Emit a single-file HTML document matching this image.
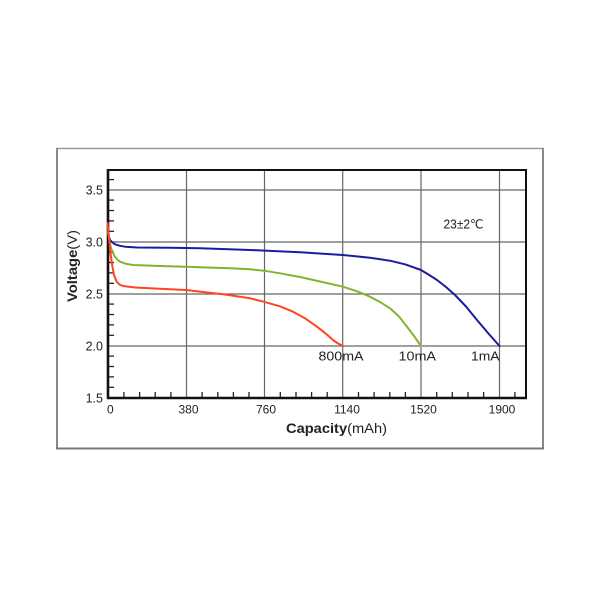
<!DOCTYPE html>
<html>
<head>
<meta charset="utf-8">
<style>
  html, body { margin:0; padding:0; background:#fff; }
  body { width:600px; height:600px; overflow:hidden; }
  svg { display:block; }
  text { font-family: "Liberation Sans", "DejaVu Sans", sans-serif; fill:#222; }
</style>
</head>
<body>
<svg width="600" height="600" viewBox="0 0 600 600" xmlns="http://www.w3.org/2000/svg">
  <rect x="0" y="0" width="600" height="600" fill="#fff"/>
  <!-- outer frame -->
  <line x1="56" y1="148.5" x2="544" y2="148.5" stroke="#9a9a9a" stroke-width="1.5"/>
  <line x1="57" y1="148" x2="57" y2="449" stroke="#888" stroke-width="2"/>
  <line x1="543" y1="148" x2="543" y2="449" stroke="#888" stroke-width="2"/>
  <line x1="56" y1="448.5" x2="544" y2="448.5" stroke="#777" stroke-width="2"/>

  <!-- grid -->
  <g stroke="#666" stroke-width="1.2">
    <line x1="186.5" y1="170" x2="186.5" y2="398"/>
    <line x1="264.5" y1="170" x2="264.5" y2="398"/>
    <line x1="342.7" y1="170" x2="342.7" y2="398"/>
    <line x1="421" y1="170" x2="421" y2="398"/>
    <line x1="499.5" y1="170" x2="499.5" y2="398"/>
    <line x1="108" y1="190" x2="526" y2="190"/>
    <line x1="108" y1="242" x2="526" y2="242"/>
    <line x1="108" y1="294" x2="526" y2="294"/>
    <line x1="108" y1="346" x2="526" y2="346"/>
  </g>

  <!-- ticks -->
  <g stroke="#222" stroke-width="1.3">
    <line x1="108" y1="387.3" x2="114" y2="387.3"/>
    <line x1="108" y1="376.9" x2="114" y2="376.9"/>
    <line x1="108" y1="366.5" x2="114" y2="366.5"/>
    <line x1="108" y1="356.1" x2="114" y2="356.1"/>
    <line x1="108" y1="335.3" x2="114" y2="335.3"/>
    <line x1="108" y1="324.9" x2="114" y2="324.9"/>
    <line x1="108" y1="314.5" x2="114" y2="314.5"/>
    <line x1="108" y1="304.1" x2="114" y2="304.1"/>
    <line x1="108" y1="283.3" x2="114" y2="283.3"/>
    <line x1="108" y1="272.9" x2="114" y2="272.9"/>
    <line x1="108" y1="262.5" x2="114" y2="262.5"/>
    <line x1="108" y1="252.1" x2="114" y2="252.1"/>
    <line x1="108" y1="231.3" x2="114" y2="231.3"/>
    <line x1="108" y1="220.9" x2="114" y2="220.9"/>
    <line x1="108" y1="210.5" x2="114" y2="210.5"/>
    <line x1="108" y1="200.1" x2="114" y2="200.1"/>
    <line x1="108" y1="179.6" x2="114" y2="179.6"/>

    <line x1="123.9" y1="392" x2="123.9" y2="398"/>
    <line x1="139.6" y1="392" x2="139.6" y2="398"/>
    <line x1="155.2" y1="392" x2="155.2" y2="398"/>
    <line x1="170.9" y1="392" x2="170.9" y2="398"/>
    <line x1="202.1" y1="392" x2="202.1" y2="398"/>
    <line x1="217.8" y1="392" x2="217.8" y2="398"/>
    <line x1="233.4" y1="392" x2="233.4" y2="398"/>
    <line x1="249.0" y1="392" x2="249.0" y2="398"/>
    <line x1="280.3" y1="392" x2="280.3" y2="398"/>
    <line x1="296.0" y1="392" x2="296.0" y2="398"/>
    <line x1="311.6" y1="392" x2="311.6" y2="398"/>
    <line x1="327.2" y1="392" x2="327.2" y2="398"/>
    <line x1="358.5" y1="392" x2="358.5" y2="398"/>
    <line x1="374.1" y1="392" x2="374.1" y2="398"/>
    <line x1="389.8" y1="392" x2="389.8" y2="398"/>
    <line x1="405.4" y1="392" x2="405.4" y2="398"/>
    <line x1="436.7" y1="392" x2="436.7" y2="398"/>
    <line x1="452.3" y1="392" x2="452.3" y2="398"/>
    <line x1="468.0" y1="392" x2="468.0" y2="398"/>
    <line x1="483.6" y1="392" x2="483.6" y2="398"/>
    <line x1="514.9" y1="392" x2="514.9" y2="398"/>
  </g>

  <!-- plot border -->
  <rect x="108" y="170" width="418" height="228" fill="none" stroke="#111" stroke-width="2"/>
  <line x1="108" y1="169" x2="108" y2="399" stroke="#111" stroke-width="2.6"/>
  <line x1="107" y1="398" x2="527" y2="398" stroke="#111" stroke-width="2.6"/>

  <!-- curves -->
  <g fill="none" stroke-width="2" stroke-linejoin="round" stroke-linecap="round">
    <polyline stroke="#1c1c9e" points="108,234 110,240 112.5,242.5 115,244.3 120,245.8 125,246.7 137,247.5 170,247.8 200,248.3 250,250 300,252.3 343,255 370,257.8 390,260.7 405,264.3 421,270 430,275.5 437,280 446,287 455,295 466,306.5 477,320 488,333 499.5,346"/>
    <polyline stroke="#86b32d" points="108,232 109.5,241 111,248 113,253 115,256.7 117.5,259.6 120,261.7 126,263.8 133,265 160,266 186,266.7 200,267.3 230,268.3 250,269.3 264,270.7 280,273.3 300,277 320,281.5 343,286.7 358,291.7 370,296.7 380,302 390,308.3 399,316.5 407,326.7 414,336 421,346"/>
    <polyline stroke="#ff4422" points="107.5,223 108.5,232 109.5,243 111,257 112.5,267 114,275 116.7,281.7 119.5,284.5 123,286 135,287.5 150,288.3 170,289.2 186,290 200,291.6 225,294.5 250,298.3 264,301.8 280,306.3 293,311.7 305,318.3 317,326.7 326,333.8 333,340 338,343.5 343,346"/>
  </g>

  <!-- y tick labels -->
  <g font-size="12.5" text-anchor="end">
    <text x="103" y="194.5">3.5</text>
    <text x="103" y="246.5">3.0</text>
    <text x="103" y="298.5">2.5</text>
    <text x="103" y="350.5">2.0</text>
    <text x="103" y="402.5">1.5</text>
  </g>
  <!-- x tick labels -->
  <g font-size="12" text-anchor="middle">
    <text x="110.3" y="413.5">0</text>
    <text x="188.5" y="413.5">380</text>
    <text x="266" y="413.5">760</text>
    <text x="347" y="413.5">1140</text>
    <text x="423.5" y="413.5">1520</text>
    <text x="502" y="413.5">1900</text>
  </g>

  <!-- axis titles -->
  <text x="286" y="433" font-size="14" textLength="101" lengthAdjust="spacingAndGlyphs"><tspan font-weight="bold">Capacity</tspan>(mAh)</text>
  <text transform="translate(77,266) rotate(-90)" font-size="13.5" text-anchor="middle" textLength="72" lengthAdjust="spacingAndGlyphs"><tspan font-weight="bold">Voltage</tspan>(V)</text>

  <!-- annotations -->
  <text x="443.5" y="228.5" font-size="12.5" textLength="40" lengthAdjust="spacingAndGlyphs">23±2℃</text>
  <text x="318.5" y="360.5" font-size="12.5" textLength="45" lengthAdjust="spacingAndGlyphs">800mA</text>
  <text x="398.5" y="360.5" font-size="12.5" textLength="37.5" lengthAdjust="spacingAndGlyphs">10mA</text>
  <text x="471" y="360.5" font-size="12.5" textLength="28.5" lengthAdjust="spacingAndGlyphs">1mA</text>
</svg>
</body>
</html>
